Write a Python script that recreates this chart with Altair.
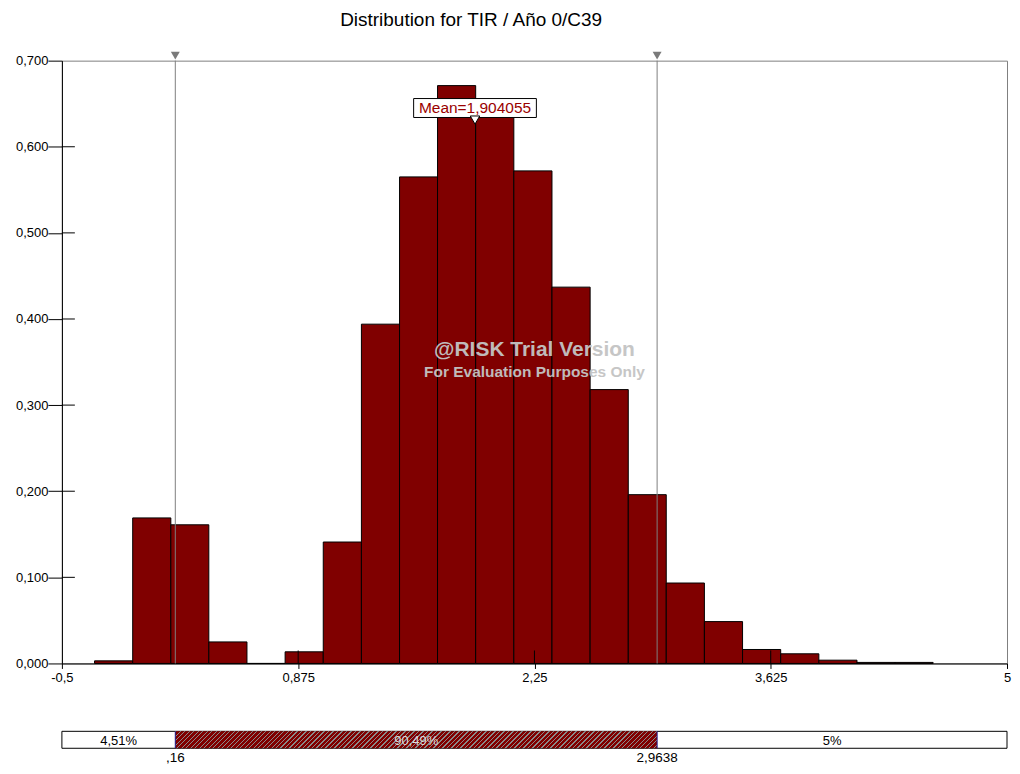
import altair as alt
import pandas as pd

# ---- data ----
bin_lo = [-0.310, -0.088, 0.134, 0.355, 0.577, 0.799, 1.021, 1.243, 1.465, 1.686, 1.908,
          2.130, 2.352, 2.574, 2.796, 3.017, 3.239, 3.461, 3.683, 3.905, 4.127, 4.348]
bin_hi = [-0.088, 0.134, 0.355, 0.577, 0.799, 1.021, 1.243, 1.465, 1.686, 1.908, 2.130,
          2.352, 2.574, 2.796, 3.017, 3.239, 3.461, 3.683, 3.905, 4.127, 4.348, 4.570]
density = [0.003, 0.169, 0.161, 0.025, 0.0, 0.0135, 0.141, 0.394, 0.565, 0.671, 0.645,
           0.572, 0.437, 0.318, 0.196, 0.0934, 0.0486, 0.0162, 0.0112, 0.0038, 0.0012, 0.0012]

x_ticks = [-0.5, 0.875, 2.25, 3.625, 5]
y_ticks = [0.0, 0.1, 0.2, 0.3, 0.4, 0.5, 0.6, 0.7]
x_min, x_max = -0.5, 5.0
y_max = 0.7

pct_cuts = [0.16, 2.9638]
pct_cut_labels = [",16", "2,9638"]
seg_lo = [-0.5, 0.16, 2.9638]
seg_hi = [0.16, 2.9638, 5.0]
seg_labels = ["4,51%", "90,49%", "5%"]

mean_val = 1.904055
mean_label = "Mean=1,904055"
mean_box_y = 0.645
mean_tri_y = 0.631

title_text = "Distribution for TIR / Año 0/C39"
wm_lines = ["@RISK Trial Version", "For Evaluation Purposes Only"]
wm_y = [0.3645, 0.338]
wm_x = 2.25

FONT = "Liberation Sans"
W, H = 947, 604
SH = 17

xs = alt.Scale(domain=[x_min, x_max], nice=False, zero=False)
ys = alt.Scale(domain=[0, y_max], nice=False, zero=True)

bars_df = pd.DataFrame({"lo": bin_lo, "hi": bin_hi, "d": density, "base": [0.0] * len(density)})

bars = alt.Chart(bars_df).mark_rect(fill="#800000", stroke="#000000", strokeWidth=1).encode(
    x=alt.X("lo:Q", scale=xs, axis=alt.Axis(
        values=x_ticks, title=None, grid=False, tickSize=5, labelPadding=3, labelFlush=False,
        labelFont=FONT, labelFontSize=13, labelColor="#000000", domainColor="#000000",
        tickColor="#000000",
        labelExpr="replace(toString(datum.value), '.', ',')")),
    x2="hi:Q",
    y=alt.Y("d:Q", scale=ys, axis=alt.Axis(
        values=y_ticks, title=None, grid=False, tickSize=14, labelPadding=0,
        labelFont=FONT, labelFontSize=13, labelColor="#000000", domainColor="#000000",
        tickColor="#000000",
        labelExpr="replace(format(datum.value, '.3f'), '.', ',')")),
    y2="base:Q",
)

inner_y = alt.Chart(pd.DataFrame({"v": y_ticks[1:-1]})).mark_rule(color="#000000", strokeWidth=1).encode(
    y=alt.Y("v:Q", scale=ys), x=alt.value(0), x2=alt.value(13))
inner_x = alt.Chart(pd.DataFrame({"v": x_ticks[1:-1]})).mark_rule(color="#000000", strokeWidth=1).encode(
    x=alt.X("v:Q", scale=xs), y=alt.value(H - 13), y2=alt.value(H))

cut_df = pd.DataFrame({"x": pct_cuts, "top": [y_max] * len(pct_cuts)})
cut_lines = alt.Chart(cut_df).mark_rule(color="#808080", strokeWidth=1).encode(
    x=alt.X("x:Q", scale=xs))
cut_tris = alt.Chart(cut_df).mark_point(shape="triangle-down", filled=True, fill="#7a7a7a",
                                        opacity=1, size=80, yOffset=-5).encode(
    x=alt.X("x:Q", scale=xs), y=alt.Y("top:Q", scale=ys))

mean_df = pd.DataFrame({"x": [mean_val], "yb": [mean_box_y], "yt": [mean_tri_y], "t": [mean_label]})
mean_box = alt.Chart(mean_df).mark_rect(width=123, height=19, fill="white", stroke="#000000",
                                        strokeWidth=1).encode(
    x=alt.X("x:Q", scale=xs), y=alt.Y("yb:Q", scale=ys))
mean_txt = alt.Chart(mean_df).mark_text(font=FONT, fontSize=15.5, color="#9a0000", baseline="middle").encode(
    x=alt.X("x:Q", scale=xs), y=alt.Y("yb:Q", scale=ys), text="t:N")
mean_tri = alt.Chart(mean_df).mark_point(shape="triangle-down", filled=True, fill="white", stroke="#000000",
                                         strokeWidth=1, opacity=1, size=90).encode(
    x=alt.X("x:Q", scale=xs), y=alt.Y("yt:Q", scale=ys))

wm_df = pd.DataFrame({"x": [wm_x] * 2, "y": wm_y, "t": wm_lines, "s": [21, 15.5]})
wm = alt.Chart(wm_df).mark_text(font=FONT, fontWeight="bold", color="#c4c4c4", opacity=0.95).encode(
    x=alt.X("x:Q", scale=xs), y=alt.Y("y:Q", scale=ys), text="t:N",
    size=alt.Size("s:Q", scale=None, legend=None))

main = alt.layer(bars, inner_y, inner_x, cut_lines, cut_tris, wm, mean_box, mean_txt, mean_tri).properties(
    width=W, height=H, view=alt.ViewBackground(stroke="#7f7f7f"))

# ---- percentile strip (diagonal hatch drawn as a striped gradient) ----
seg_px = W * (seg_hi[1] - seg_lo[1]) / (x_max - x_min)
span = 1.2
p = 4.5 / (seg_px * span)
stops = []
k = 0
while k * p < 1.0:
    a = k * p
    stops += [alt.GradientStop(offset=min(a, 1.0), color="#800000"),
              alt.GradientStop(offset=min(a + 0.72 * p, 1.0), color="#800000"),
              alt.GradientStop(offset=min(a + 0.72 * p, 1.0), color="#8a8a8a"),
              alt.GradientStop(offset=min(a + p, 1.0), color="#8a8a8a")]
    k += 1
slope = SH / seg_px
hatch = alt.LinearGradient(gradient="linear", stops=stops,
                           x1=-0.1, y1=-0.1 * slope, x2=1.1, y2=1.1 * slope)

seg_df = pd.DataFrame({"lo": seg_lo, "hi": seg_hi, "t": seg_labels,
                       "c": ["#000000", "#dcdcdc", "#000000"]})
seg_df["mid"] = (seg_df["lo"] + seg_df["hi"]) / 2

frame = alt.Chart(pd.DataFrame({"lo": [x_min], "hi": [x_max]})).mark_rect(
    fill="white", stroke="#000000", strokeWidth=1).encode(
    x=alt.X("lo:Q", scale=xs, axis=None), x2="hi:Q", y=alt.value(0), y2=alt.value(SH))
mid_seg = alt.Chart(seg_df.iloc[[1]]).mark_rect(fill=hatch).encode(
    x=alt.X("lo:Q", scale=xs, axis=None), x2="hi:Q", y=alt.value(0), y2=alt.value(SH))
seg_lines = alt.Chart(pd.DataFrame({"x": pct_cuts})).mark_rule(color="#1a1a8c", strokeWidth=1).encode(
    x=alt.X("x:Q", scale=xs, axis=None), y=alt.value(0), y2=alt.value(SH))
seg_txt = alt.Chart(seg_df).mark_text(font=FONT, fontSize=13, baseline="middle").encode(
    x=alt.X("mid:Q", scale=xs, axis=None), y=alt.value(SH / 2 + 1), text="t:N",
    color=alt.Color("c:N", scale=None, legend=None))
cut_txt = alt.Chart(pd.DataFrame({"x": pct_cuts, "t": pct_cut_labels})).mark_text(
    font=FONT, fontSize=13.5, baseline="middle").encode(
    x=alt.X("x:Q", scale=xs, axis=None), y=alt.value(SH + 10), text="t:N")

strip = alt.layer(frame, mid_seg, seg_lines, seg_txt, cut_txt).properties(
    width=W, height=SH, view=alt.ViewBackground(stroke=None))

chart = alt.vconcat(main, strip, spacing=45).properties(
    title=alt.TitleParams(title_text, font=FONT, fontSize=19, fontWeight="normal", color="#000000",
                          anchor="middle", dx=-42, offset=21),
    padding={"left": 6, "top": 2, "right": 0, "bottom": 0},
)

chart.save("out.html", embed_options={"renderer": "svg", "actions": False})
